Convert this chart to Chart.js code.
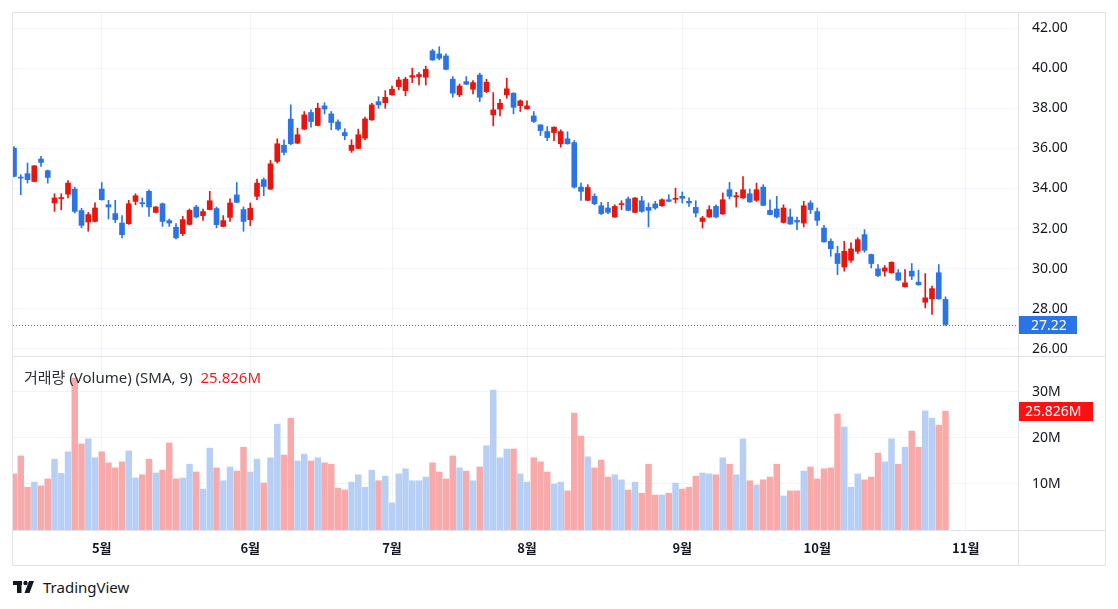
<!DOCTYPE html>
<html lang="ko">
<head>
<meta charset="utf-8">
<script src="https://cdn.jsdelivr.net/npm/chart.js@4.4.1/dist/chart.umd.min.js"></script>
<style>
  body { margin: 0; background: #fff; width: 1118px; height: 609px; overflow: hidden; font-family: 'Noto Sans', 'Noto Sans CJK KR', sans-serif; color: #131722; }
  canvas { position: absolute; }
  .line { position: absolute; background: #e0e3eb; }
  #legend { position: absolute; left: 24px; top: 366px; font-size: 15px; white-space: nowrap; color: #2a2e39; }
  #legend span { color: #ef1c1c; margin-left: 8px; }
  #brand { position: absolute; left: 13px; top: 577px; display: flex; align-items: center; font-size: 15px; color: #131722; }
  #brand svg { margin-right: 5px; }
</style>
</head>
<body>
<div class="line" style="left:12px;top:12px;width:1094px;height:1px"></div>
<div class="line" style="left:12px;top:565px;width:1094px;height:1px"></div>
<div class="line" style="left:12px;top:12px;width:1px;height:554px"></div>
<div class="line" style="left:1105px;top:12px;width:1px;height:554px"></div>
<canvas id="price" width="1092" height="343" style="left:13px;top:13px"></canvas>
<canvas id="volume" width="1092" height="208" style="left:13px;top:357px"></canvas>
<div class="line" style="left:12px;top:356px;width:1094px;height:1px"></div>
<div class="line" style="left:12px;top:530px;width:1094px;height:1px"></div>
<div class="line" style="left:1018px;top:12px;width:1px;height:554px"></div>
<div id="legend">거래량 (Volume) (SMA, 9)<span>25.826M</span></div>
<div id="brand">
  <svg width="25" height="14" viewBox="0 0 25 14">
    <rect x="0" y="1" width="9" height="4" fill="#131722"/>
    <rect x="4" y="1" width="4.5" height="12" fill="#131722"/>
    <circle cx="12.5" cy="3" r="2.2" fill="#131722"/>
    <polygon points="16,1 21,1 16.5,13 11.5,13" fill="#131722"/>
  </svg>TradingView
</div>
<script>
// daily candles, mid-April to late October
const open = [36.01,34.55,34.74,34.35,35.47,34.89,33.28,33.50,33.72,33.97,32.90,32.33,32.36,33.97,33.19,32.75,32.28,32.25,33.36,33.29,33.86,32.81,33.24,32.40,32.07,31.75,32.21,33.08,32.65,32.95,33.00,32.11,32.56,33.68,32.95,32.45,33.61,34.44,33.97,35.35,36.16,37.46,36.26,36.96,37.79,37.14,38.12,37.72,37.32,36.79,35.90,36.00,36.51,37.42,38.33,38.28,38.67,39.08,38.88,39.55,39.58,39.55,40.86,40.71,40.61,39.45,38.67,39.33,38.95,39.66,38.83,37.67,37.96,38.67,38.75,38.13,37.97,37.62,37.17,36.84,36.79,36.23,36.48,36.29,34.07,33.41,33.61,33.14,33.03,32.58,33.20,33.48,32.81,33.39,33.06,33.23,33.14,33.44,33.46,33.61,33.36,33.06,32.36,32.58,33.11,32.73,33.94,33.58,33.53,33.74,33.41,34.07,32.91,32.98,32.31,32.58,32.41,32.28,33.28,32.85,32.03,31.37,30.76,30.09,30.42,30.87,31.70,30.71,29.99,29.88,29.80,29.80,29.10,29.88,29.33,28.33,28.50,29.80,28.47];
const high = [36.09,34.69,35.27,35.15,35.60,34.92,33.74,33.74,34.39,34.07,33.01,32.81,33.28,34.30,33.41,33.41,32.65,33.41,33.74,33.53,33.94,33.10,33.28,32.48,32.25,32.61,32.98,33.16,32.98,33.86,33.08,32.65,33.49,34.30,33.08,33.28,34.47,34.52,35.40,36.48,36.43,38.17,37.01,37.84,37.92,38.25,38.28,37.84,37.42,36.98,36.43,36.96,37.56,38.25,38.58,38.88,39.11,39.55,39.55,40.00,39.78,40.10,40.94,41.07,40.71,39.58,39.21,39.58,39.38,39.75,39.45,38.78,38.45,39.50,38.78,38.42,38.37,37.84,37.19,37.09,37.08,36.93,36.83,36.39,34.27,34.19,33.74,33.31,33.31,33.19,33.39,33.58,33.55,33.61,33.28,33.36,33.49,33.69,34.02,33.83,33.53,33.39,32.61,33.14,33.19,33.78,34.30,33.81,34.60,33.97,34.27,34.19,33.44,33.61,33.19,32.98,32.58,33.36,33.39,33.03,32.16,31.49,31.12,31.37,31.29,31.54,31.95,30.73,30.21,30.16,30.35,29.96,29.96,30.26,29.93,29.76,29.13,30.21,28.60];
const low = [34.58,33.69,34.27,34.33,35.10,34.27,32.86,32.94,33.53,32.78,32.04,31.87,32.33,33.42,32.48,32.30,31.54,32.21,33.19,33.08,32.61,32.78,32.11,32.11,31.49,31.65,32.18,32.53,32.41,32.93,32.04,32.09,32.36,33.29,31.87,32.15,33.44,33.64,33.95,35.27,35.68,36.18,36.24,36.94,37.06,37.12,37.72,36.93,36.89,36.43,35.80,35.98,36.43,37.40,38.00,38.00,38.65,38.92,38.62,39.28,39.16,39.16,40.39,40.41,39.91,38.55,38.58,39.18,38.72,38.33,38.78,37.12,37.62,38.50,37.72,37.84,37.95,37.29,36.64,36.39,36.39,36.06,36.21,34.02,33.41,33.39,33.19,32.70,32.75,32.56,32.95,32.89,32.79,32.81,32.08,32.96,33.11,33.34,33.28,33.28,33.11,32.58,32.03,32.56,32.53,32.71,33.48,33.08,33.51,33.31,33.36,33.14,32.68,32.53,32.28,32.21,31.95,32.08,32.75,32.16,31.32,30.62,29.71,29.88,30.32,30.76,30.82,30.04,29.60,29.63,29.78,29.41,29.08,29.46,29.18,28.05,27.72,28.47,27.17];
const close = [34.60,34.52,34.44,35.13,35.30,34.55,33.53,33.53,34.27,32.86,32.16,32.70,33.03,33.44,33.08,32.45,31.70,33.24,33.64,33.24,33.08,33.08,32.36,32.28,31.54,32.45,32.91,32.58,32.85,33.39,32.20,32.40,33.28,33.31,32.36,33.01,34.27,34.10,35.23,36.23,35.80,36.23,36.68,37.67,37.34,38.00,37.96,37.29,36.96,36.63,36.16,36.68,37.47,38.17,38.17,38.55,38.95,39.41,39.45,39.63,39.68,39.94,40.41,40.49,39.94,38.75,39.11,39.20,39.28,38.55,39.30,37.92,38.25,38.97,38.05,38.37,38.12,37.34,36.89,36.54,37.06,36.84,36.23,34.07,33.86,34.05,33.24,32.75,32.81,33.11,33.23,32.91,33.53,32.86,32.91,33.03,33.44,33.36,33.49,33.51,33.28,32.78,32.53,32.95,32.58,33.44,33.61,33.64,33.94,33.33,33.94,33.16,32.70,32.58,33.03,32.23,32.33,33.14,32.95,32.41,31.34,31.00,30.26,30.87,30.99,31.45,30.92,30.26,29.66,30.04,30.32,29.43,29.30,29.63,29.20,28.55,29.01,28.50,27.22];
// volume in millions
const volume = [12.2,16.1,9.3,10.4,9.6,11.1,15.4,12.3,17.0,33.0,18.7,19.8,15.7,17.0,14.6,13.5,14.8,17.2,11.3,12.0,15.4,12.4,13.0,18.9,11.1,11.3,14.3,12.6,8.9,17.8,13.5,10.7,13.7,12.8,18.0,12.6,15.4,10.2,15.7,23.0,16.3,24.3,15.0,16.5,15.0,15.7,14.6,14.3,9.1,8.7,10.4,12.0,9.3,13.0,10.7,11.7,5.9,12.2,13.3,10.7,10.7,11.5,14.6,12.6,11.1,16.1,13.5,12.8,10.7,13.7,18.3,30.4,15.7,17.6,17.6,12.2,10.4,15.7,14.8,12.6,10.0,10.4,8.5,25.4,20.4,15.9,13.5,15.2,11.5,12.0,10.9,8.7,10.4,8.0,14.3,7.6,7.6,8.0,10.2,8.9,9.3,11.7,12.4,12.2,12.0,15.7,14.3,12.0,19.8,10.7,9.8,10.9,11.5,14.3,7.4,8.5,8.5,12.8,13.7,11.1,13.3,13.5,25.2,22.4,9.3,12.2,10.9,11.5,16.7,14.8,19.8,14.3,18.0,21.5,18.0,25.9,24.3,22.8,25.826];

const monthIdx = [13, 35, 56, 76, 99, 119, 141];
const monthLabels = ['5월', '6월', '7월', '8월', '9월', '10월', '11월'];
const priceTicks = [26, 28, 30, 32, 34, 36, 38, 40, 42];
const volumeTicks = [10, 20, 30];

const RED = '#e8140e';
const BLUE = '#2b74e6';
const PINK = '#f8a9a9';
const LIGHTBLUE = '#b8cff5';
const GRID = '#f0f3fa';
const TEXT = '#131722';

const xMin = -0.15, xMax = 148.74;

const isDown = close.map((c, i) => c < open[i]);
const candleColors = isDown.map(d => d ? BLUE : RED);
const volColors = isDown.map(d => d ? PINK : LIGHTBLUE);

const bodies = open.map((o, i) => ({ x: i, y: [o, close[i]] }));
const wicks = low.map((l, i) => ({ x: i, y: [l, high[i]] }));
const vols = volume.map((v, i) => ({ x: i, y: v }));

const axisFont = { family: "'Noto Sans'", size: 14 };

const noPad = s => { s.paddingTop = 0; s.paddingBottom = 0; s.paddingLeft = 0; s.paddingRight = 0; };

const xAxis = (showLabels) => ({
  type: 'linear', min: xMin, max: xMax, offset: false,
  grid: { color: GRID, drawTicks: false, offset: false },
  border: { display: false },
  ticks: {
    display: showLabels, autoSkip: false, maxRotation: 0, padding: 10, color: TEXT,
    font: { family: "'Noto Sans CJK KR'", size: 13, weight: 'bold' },
    callback: v => monthLabels[monthIdx.indexOf(v)] ?? ''
  },
  afterBuildTicks: s => { s.ticks = monthIdx.map(v => ({ value: v })); },
  afterFit: s => { s.height = showLabels ? 35 : 0; noPad(s); }
});

const lastPrice = {
  id: 'lastPrice',
  afterDatasetsDraw(chart) {
    const { ctx, chartArea, scales: { y } } = chart;
    const last = close[close.length - 1];
    const yy = Math.round(y.getPixelForValue(last)) + 0.5;
    ctx.save();
    ctx.strokeStyle = BLUE;
    ctx.lineWidth = 1;
    ctx.setLineDash([1, 2]);
    ctx.beginPath();
    ctx.moveTo(chartArea.left, yy);
    ctx.lineTo(chartArea.right, yy);
    ctx.stroke();
    ctx.fillStyle = BLUE;
    ctx.fillRect(chartArea.right, yy - 9.5, 59, 18);
    ctx.fillStyle = '#fff';
    ctx.font = "14px 'Noto Sans'";
    ctx.textBaseline = 'middle';
    ctx.fillText(last.toFixed(2), chartArea.right + 13, yy + 0.5);
    ctx.restore();
  }
};

const lastVolume = {
  id: 'lastVolume',
  afterDatasetsDraw(chart) {
    const { ctx, chartArea, scales: { y } } = chart;
    const last = volume[volume.length - 1];
    const yy = Math.round(y.getPixelForValue(last)) + 0.5;
    ctx.save();
    ctx.fillStyle = '#ff0f0f';
    ctx.fillRect(chartArea.right, yy - 9.5, 75, 19);
    ctx.fillStyle = '#fff';
    ctx.font = "14px 'Noto Sans'";
    ctx.textBaseline = 'middle';
    ctx.fillText(last.toFixed(3) + 'M', chartArea.right + 7, yy + 0.5);
    ctx.restore();
  }
};

new Chart(document.getElementById('price'), {
  type: 'bar',
  data: {
    datasets: [
      { data: bodies, backgroundColor: candleColors, barThickness: 5, minBarLength: 1, grouped: false, borderWidth: 0 },
      { data: wicks, backgroundColor: candleColors, barThickness: 1, grouped: false, borderWidth: 0 }
    ]
  },
  options: {
    responsive: false, animation: false,
    layout: { padding: 0 },
    plugins: { legend: { display: false }, tooltip: { enabled: false } },
    scales: {
      x: xAxis(false),
      y: {
        position: 'right', min: 25.65, max: 42.75,
        grid: { color: GRID, drawTicks: false },
        border: { display: false },
        ticks: { padding: 14, color: TEXT, font: axisFont, callback: v => v.toFixed(2) },
        afterBuildTicks: s => { s.ticks = priceTicks.map(v => ({ value: v })); },
        afterFit: s => { s.width = 87; noPad(s); }
      }
    }
  },
  plugins: [lastPrice]
});

new Chart(document.getElementById('volume'), {
  type: 'bar',
  data: {
    datasets: [
      { data: vols, backgroundColor: volColors, barThickness: 5.8, grouped: false, borderWidth: 0 }
    ]
  },
  options: {
    responsive: false, animation: false,
    layout: { padding: 0 },
    plugins: { legend: { display: false }, tooltip: { enabled: false } },
    scales: {
      x: xAxis(true),
      y: {
        position: 'right', min: 0, max: 37.6,
        grid: { color: GRID, drawTicks: false },
        border: { display: false },
        ticks: { padding: 14, color: TEXT, font: axisFont, callback: v => v + 'M' },
        afterBuildTicks: s => { s.ticks = volumeTicks.map(v => ({ value: v })); },
        afterFit: s => { s.width = 87; noPad(s); }
      }
    }
  },
  plugins: [lastVolume]
});
</script>
</body>
</html>
